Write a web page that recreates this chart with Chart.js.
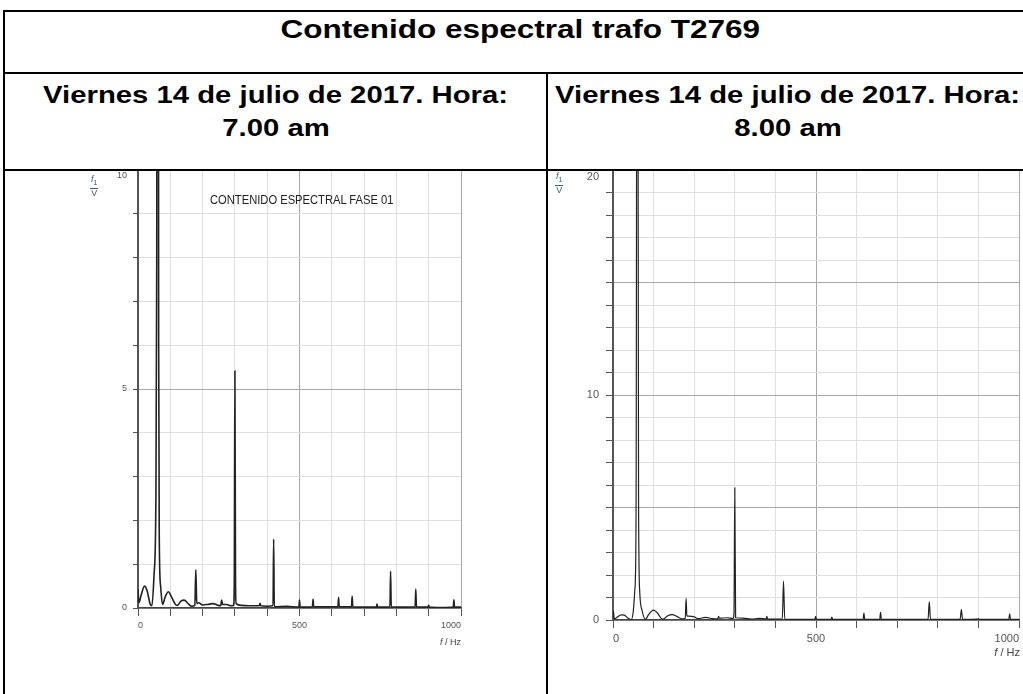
<!DOCTYPE html>
<html lang="es">
<head>
    <meta charset="UTF-8">
    <title>Contenido espectral trafo T2769</title>
    <script src="https://cdn.jsdelivr.net/npm/chart.js"></script>
    <style>
        body {
            margin: 0;
            width: 1023px;
            height: 694px;
            overflow: hidden;
            position: relative;
            background: #fff;
            font-family: "Liberation Sans", Arial, sans-serif;
        }
        .line {
            position: absolute;
            background: #000;
            z-index: 5;
        }
        .txt {
            position: absolute;
            text-align: center;
            font-weight: bold;
            color: #000;
            white-space: nowrap;
        }
        .txt span {
            display: inline-block;
        }
        canvas {
            position: absolute;
        }
        .frac {
            position: absolute;
            font-size: 9px;
            color: #4b5670;
            text-align: center;
            line-height: 9px;
            z-index: 6;
        }
        .frac .num {
            border-bottom: 1px solid #4b5670;
            padding: 0 1px 1px;
        }
        .xt {
            position: absolute;
            color: #444;
            white-space: nowrap;
            z-index: 6;
        }
        .fase {
            position: absolute;
            font-family: "Liberation Sans Narrow", "Liberation Sans", Arial, sans-serif;
            font-size: 13px;
            color: #222;
            white-space: nowrap;
            z-index: 6;
        }
    </style>
</head>
<body>
    <!-- tabla -->
    <div class="line" style="left:3px; top:10px; width:1040px; height:2px;"></div>
    <div class="line" style="left:3px; top:72px; width:1040px; height:2px;"></div>
    <div class="line" style="left:3px; top:169px; width:1040px; height:2px;"></div>
    <div class="line" style="left:3px; top:10px; width:2px; height:700px;"></div>
    <div class="line" style="left:546px; top:72px; width:2px; height:700px;"></div>

    <div class="txt" style="left:4px; width:1032px; top:15px; font-size:25px;">
        <span style="transform:scaleX(1.26);">Contenido espectral trafo T2769</span>
    </div>
    <div class="txt" style="left:5px; width:542px; top:78px; font-size:24px; line-height:33px;">
        <span style="transform:scaleX(1.22);">Viernes 14 de julio de 2017. Hora:</span><br>
        <span style="transform:scaleX(1.22);">7.00 am</span>
    </div>
    <div class="txt" style="left:548px; width:480px; top:78px; font-size:24px; line-height:33px;">
        <span style="transform:scaleX(1.22);">Viernes 14 de julio de 2017. Hora:</span><br>
        <span style="transform:scaleX(1.22);">8.00 am</span>
    </div>

    <canvas id="chart07" width="420" height="544" style="left:60px; top:150px;"></canvas>
    <canvas id="chart08" width="473" height="544" style="left:550px; top:150px;"></canvas>

    <div class="frac" style="left:90px; top:175px;"><div class="num"><i>f</i><sub style="font-size:7px;">1</sub></div><div>V</div></div>
    <div class="frac" style="left:555px; top:172px;"><div class="num"><i>f</i><sub style="font-size:7px;">1</sub></div><div>V</div></div>

    <div class="fase" style="left:210px; top:192px; transform-origin:left; transform:scaleX(0.86);">CONTENIDO ESPECTRAL FASE 01</div>

    <div class="xt" style="right:562px; top:637px; font-size:9px;"><i>f</i> / Hz</div>
    <div class="xt" style="right:3px; top:646px; font-size:11px;"><i>f</i> / Hz</div>

    <script>
        // Fase 01, viernes 14/07/2017 7.00 am (f en Hz, amplitud en V)
        const freqs07 = [0, 3, 10, 20, 28, 38, 43, 50, 55, 58, 60, 62, 64, 66, 70, 76, 84, 94, 104, 116,
            122, 132, 143, 155, 166, 176, 179, 182, 188, 200, 215, 232, 248, 256, 259, 262, 275, 288, 296, 298,
            300, 302, 304, 320, 350, 370, 376, 378, 380, 400, 418, 420, 422, 460, 498, 500, 502, 540, 542, 544,
            580, 619, 621, 623, 661, 663, 665, 700, 738, 740, 742, 780, 782, 784, 820, 858, 860, 862, 898, 900,
            902, 940, 976, 978, 980, 1000];
        const amps07 = [0.43, 0.12, 0.3, 0.5, 0.4, 0.08, 0.05, 0.8, 2.2, 8, 25, 25, 6, 1.5, 0.5, 0.08, 0.25, 0.37, 0.25, 0.08,
            0.06, 0.15, 0.18, 0.1, 0.04, 0.06, 0.87, 0.1, 0.12, 0.07, 0.08, 0.1, 0.06, 0.05, 0.18, 0.08, 0.08, 0.05, 0.06, 0.5,
            5.41, 0.5, 0.1, 0.06, 0.05, 0.05, 0.06, 0.11, 0.05, 0.04, 0.05, 1.57, 0.03, 0.04, 0.02, 0.18, 0.02, 0.03, 0.2, 0.03,
            0.03, 0.03, 0.24, 0.03, 0.03, 0.27, 0.03, 0.02, 0.02, 0.09, 0.02, 0.03, 0.84, 0.03, 0.02, 0.03, 0.43, 0.03, 0.02, 0.06,
            0.02, 0.01, 0.02, 0.19, 0.02, 0.02];

        // Viernes 14/07/2017 8.00 am
        const freqs08 = [0, 1, 3, 10, 20, 28, 36, 45, 50, 54, 55, 57, 59, 61, 63, 66, 72, 80, 88, 100,
            110, 120, 124, 134, 146, 158, 170, 178, 180, 182, 186, 200, 210, 228, 245, 258, 260, 262, 280, 296,
            298, 300, 302, 320, 340, 360, 377, 379, 381, 417, 420, 423, 460, 497, 499, 501, 537, 539, 541, 580,
            616, 618, 620, 657, 659, 661, 700, 740, 776, 779, 782, 820, 855, 858, 861, 898, 900, 902, 940, 975,
            977, 979, 1000];
        const amps08 = [0.05, 0.41, 0.05, 0.12, 0.23, 0.22, 0.1, 0.02, 0.4, 1.4, 1.76, 6, 30, 30, 5, 1.2, 0.4, 0.03, 0.25, 0.44,
            0.3, 0.05, 0.04, 0.18, 0.24, 0.15, 0.05, 0.08, 0.96, 0.2, 0.17, 0.14, 0.06, 0.12, 0.06, 0.05, 0.16, 0.08, 0.1, 0.07,
            0.3, 5.88, 0.1, 0.08, 0.04, 0.07, 0.05, 0.16, 0.04, 0.05, 1.72, 0.04, 0.03, 0.03, 0.16, 0.03, 0.03, 0.13, 0.03, 0.03,
            0.03, 0.31, 0.03, 0.03, 0.34, 0.03, 0.03, 0.03, 0.03, 0.81, 0.03, 0.03, 0.03, 0.46, 0.03, 0.04, 0.06, 0.03, 0.03, 0.03,
            0.27, 0.03, 0.03];

        const yLabels07 = [0, 5, 10];
        const yLabels08 = [0, 10, 20];
        const xLabels = [0, 500, 1000];

        function makeChart(id, freqs, amps, o) {
            const points = freqs.map((f, i) => ({ x: f, y: amps[i] }));
            const tickFont = { family: o.fontFamily, size: o.fontSize };
            new Chart(document.getElementById(id), {
                type: 'line',
                data: {
                    datasets: [{
                        data: points,
                        borderColor: '#222',
                        borderWidth: o.lineWidth,
                        pointRadius: 0,
                        cubicInterpolationMode: 'monotone',
                        fill: false
                    }]
                },
                options: {
                    responsive: false,
                    animation: false,
                    devicePixelRatio: 1,
                    layout: { padding: { top: 20, right: o.padRight, bottom: 0, left: 0 } },
                    plugins: { legend: { display: false }, tooltip: { enabled: false } },
                    scales: {
                        x: {
                            type: 'linear',
                            min: 0,
                            max: 1000,
                            afterFit: (s) => { s.height = o.xHeight; },
                            ticks: {
                                stepSize: 100,
                                align: 'inner',
                                maxRotation: 0,
                                autoSkip: false,
                                padding: 4,
                                color: '#555',
                                font: tickFont,
                                callback: (v) => xLabels.includes(v) ? String(v) : ''
                            },
                            grid: {
                                color: (c) => c.tick && c.tick.value % 500 === 0 ? '#a8a8a8' : '#e0e0e0',
                                lineWidth: 1,
                                tickLength: 8,
                                tickColor: '#555'
                            },
                            border: { color: '#444', width: 1.5 }
                        },
                        y: {
                            min: 0,
                            max: o.yMax,
                            afterFit: (s) => { s.width = o.yWidth; },
                            ticks: {
                                stepSize: 1,
                                autoSkip: false,
                                padding: o.yPad,
                                color: '#555',
                                font: tickFont,
                                // the top label sits just under the frame, as in the original
                                callback: (v) => {
                                    if (!o.yLabels.includes(v)) return '';
                                    return v === o.yMax ? ['', String(v)] : String(v);
                                }
                            },
                            grid: {
                                color: (c) => c.tick && c.tick.value % 5 === 0 ? '#a8a8a8' : '#e0e0e0',
                                lineWidth: 1,
                                tickLength: o.yTick,
                                tickColor: '#555'
                            },
                            border: { color: '#555', width: 2 }
                        }
                    }
                }
            });
        }

        makeChart('chart07', freqs07, amps07, {
            yMax: 10, yLabels: yLabels07, yWidth: 78, padRight: 19, xHeight: 86,
            yTick: 5, yPad: 6, lineWidth: 1.6,
            fontFamily: '"Liberation Sans Narrow", "Liberation Sans", Arial', fontSize: 9
        });
        makeChart('chart08', freqs08, amps08, {
            yMax: 20, yLabels: yLabels08, yWidth: 63, padRight: 1, xHeight: 74,
            yTick: 7, yPad: 7, lineWidth: 1.2,
            fontFamily: '"Liberation Sans", Arial', fontSize: 11
        });
    </script>
</body>
</html>
